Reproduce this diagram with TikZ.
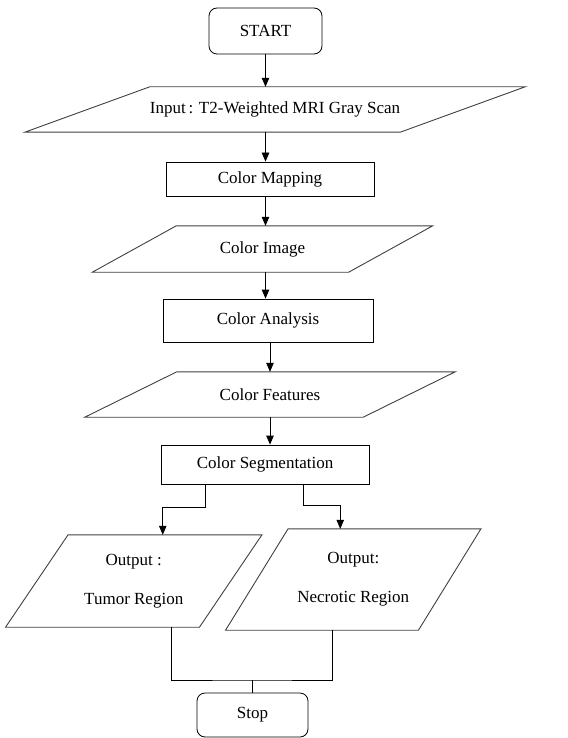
\documentclass[tikz,border=0pt]{standalone}
\usepackage{fontspec}
\setmainfont{Liberation Serif}
\usetikzlibrary{positioning}
\usetikzlibrary{arrows.meta}
\tikzset{arr/.style = {-{Triangle[length=9pt,width=7.5pt]}, line width=0.8pt}}
\tikzset{link/.style = {line width=0.8pt}}
\tikzset{proc/.style = {draw, line width=0.8pt, inner sep=0, font=\fontsize{17}{20}\selectfont}}
\tikzset{term/.style = {proc, rounded corners=8pt}}
\tikzset{io/.style = {inner sep=0, font=\fontsize{17}{20}\selectfont, align=center}}
\tikzset{iodraw/.style = {draw=black!75, line width=0.9pt}}
\newcommand{\ioshape}[2]{%
  \draw[iodraw] ([xshift=#2]#1.north west) -- ([xshift=#2]#1.north east)
    -- ([xshift=-#2]#1.south east) -- ([xshift=-#2]#1.south west) -- cycle;}

\begin{document}
\begin{tikzpicture}[x=1pt,y=-1pt]
      \useasboundingbox (0,0) rectangle (567,738);

      \node[term, minimum width=113, minimum height=46] (start) at (265.5,31) {START};
      \node[io, minimum width=375, minimum height=45] (inp) at (275,109.5)
        {Input\,: T2-Weighted MRI Gray Scan};
      \node[proc, minimum width=208, minimum height=34] (map) at (270,179) {Color Mapping};
      \node[io, minimum width=256, minimum height=46] (img) at (262.5,249) {Color Image};
      \node[proc, minimum width=210, minimum height=43] (ana) at (268,320.5) {Color Analysis};
      \node[io, minimum width=278, minimum height=45] (feat) at (270,394.5) {Color Features};
      \node[proc, minimum width=208, minimum height=39] (seg) at (265,464.5) {Color Segmentation};
      \node[io, minimum width=193.5, minimum height=92] (tum) at (133.75,581)
        {Output :\\[19pt] Tumor Region};
      \node[io, minimum width=192.5, minimum height=101] (nec) at (353.25,579.5)
        {Output:\\[19pt] Necrotic Region};
      \node[term, minimum width=111, minimum height=44] (stop) at (252.5,715) {Stop};

      \ioshape{inp}{62.5}
      \ioshape{img}{42}
      \ioshape{feat}{46}
      \ioshape{tum}{31.25}
      \ioshape{nec}{31.25}

      \draw[arr] (start.south) -- (start.south |- inp.north);
      \draw[arr] (inp.south -| start) -- (map.north -| start);
      \draw[arr] (map.south -| start) -- (img.north -| start);
      \draw[arr] (img.south -| start) -- (ana.north -| start);
      \draw[arr] (ana.south -| feat) -- (feat.north);
      \draw[arr] (feat.south) -- (feat.south |- seg.north);

      \draw[arr] ([xshift=-60]seg.south) -- ++(0,23) -| ([xshift=29]tum.north);
      \draw[arr] ([xshift=38]seg.south) -- ++(0,21) -| ([xshift=-13]nec.north);

      \coordinate (join) at (252.5,680);
      \draw[link] ([xshift=38]tum.south) |- (join) -| ([xshift=-21]nec.south);
      \draw[link] (join) -- (stop.north);
    \end{tikzpicture}
\end{document}
